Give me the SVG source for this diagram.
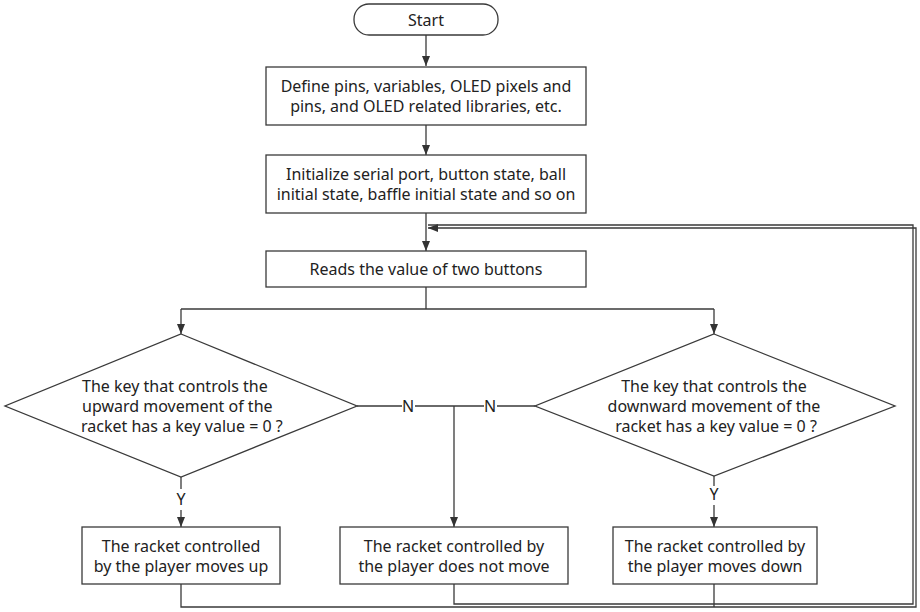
<svg xmlns="http://www.w3.org/2000/svg" width="920" height="612" viewBox="0 0 920 612">
<style>
.n{fill:#fff;stroke:#3a3a3a;stroke-width:1.3}
.t{font-family:"Noto Sans","Open Sans",sans-serif;font-size:16px;fill:#222;text-anchor:middle}
.ts{font-family:"Noto Sans","Open Sans",sans-serif;font-size:16px;fill:#222}
.c{fill:none;stroke:#3a3a3a;stroke-width:1.3}
.lb{font-family:"Noto Sans","Open Sans",sans-serif;font-size:16px;fill:#222;text-anchor:middle}
</style>
<defs>
<marker id="a" markerWidth="10" markerHeight="8" refX="10" refY="4" orient="auto" markerUnits="userSpaceOnUse">
<path d="M0,0 L10,4 L0,8 Z" fill="#333"/>
</marker>
</defs>
<rect width="920" height="612" fill="#fff"/>
<g id="connectors">
<path class="c" d="M426,35 V66" marker-end="url(#a)"/>
<path class="c" d="M426,125 V155" marker-end="url(#a)"/>
<path class="c" d="M426,213 V251" marker-end="url(#a)"/>
<path class="c" d="M426,287 V309" stroke-width="1.8"/>
<path class="c" d="M181,309 H714"/>
<path class="c" d="M181,309 V334" marker-end="url(#a)"/>
<path class="c" d="M714,309 V334" marker-end="url(#a)"/>
<path class="c" d="M357,406 H402 M415,406 H484 M497,406 H535"/>
<path class="c" d="M454,406 V527" marker-end="url(#a)"/>
<path class="c" d="M181,477 V489"/>
<path class="c" d="M181,510 V527" marker-end="url(#a)"/>
<path class="c" d="M714,476 V486"/>
<path class="c" d="M714,505 V527" marker-end="url(#a)"/>
<path class="c" d="M181,584 V607 H916 V228 H428" stroke-width="1.5" marker-end="url(#a)"/>
<path class="c" d="M454,584 V604 H913 V225 H428" stroke="#666"/>
<path class="c" d="M714,584 V607"/>
<text class="lb" x="408" y="412">N</text>
<text class="lb" x="490" y="412">N</text>
<text class="lb" x="181" y="505">Y</text>
<text class="lb" x="714" y="500">Y</text>
</g>
<g id="start">
<rect class="n" x="354" y="4" width="144" height="31" rx="15"/>
<text class="t" x="426" y="26">Start</text>
</g>
<g id="define">
<rect class="n" x="266" y="67" width="320" height="58"/>
<text class="t" x="426" y="92">Define pins, variables, OLED pixels and</text>
<text class="t" x="426" y="112">pins, and OLED related libraries, etc.</text>
</g>
<g id="init">
<rect class="n" x="266" y="155" width="320" height="58"/>
<text class="t" x="426" y="180">Initialize serial port, button state, ball</text>
<text class="t" x="426" y="200">initial state, baffle initial state and so on</text>
</g>
<g id="read">
<rect class="n" x="266" y="251" width="320" height="36"/>
<text class="t" x="426" y="275">Reads the value of two buttons</text>
</g>
<g id="upDecision">
<polygon class="n" points="181,334 357,406 181,477 5,406"/>
<text class="ts" x="82" y="392">The key that controls the</text>
<text class="ts" x="82" y="412">upward movement of the</text>
<text class="ts" x="81" y="432">racket has a key value = 0 ?</text>
</g>
<g id="downDecision">
<polygon class="n" points="714,334 895,406 714,476 535,406"/>
<text class="t" x="714" y="392">The key that controls the</text>
<text class="t" x="714" y="412">downward movement of the</text>
<text class="t" x="716" y="432">racket has a key value = 0 ?</text>
</g>
<g id="moveUp">
<rect class="n" x="82" y="527" width="198" height="57"/>
<text class="t" x="181" y="552">The racket controlled</text>
<text class="t" x="181" y="572">by the player moves up</text>
</g>
<g id="noMove">
<rect class="n" x="340" y="527" width="228" height="57"/>
<text class="t" x="454" y="552">The racket controlled by</text>
<text class="t" x="454" y="572">the player does not move</text>
</g>
<g id="moveDown">
<rect class="n" x="613" y="527" width="204" height="57"/>
<text class="t" x="715" y="552">The racket controlled by</text>
<text class="t" x="715" y="572">the player moves down</text>
</g>
</svg>
